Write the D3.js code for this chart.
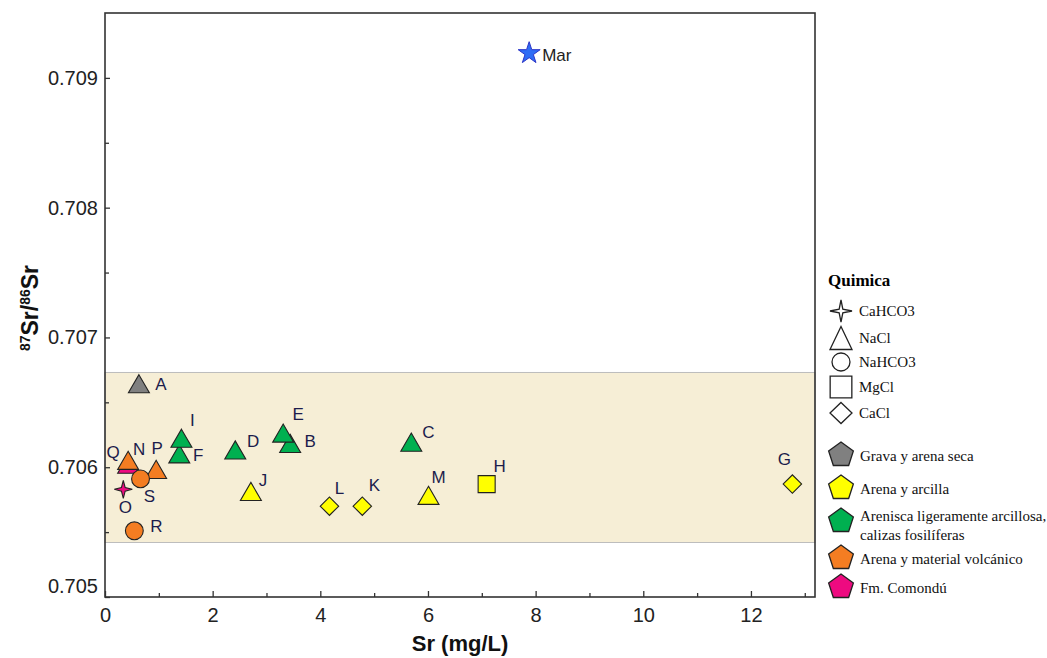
<!DOCTYPE html>
<html>
<head>
<meta charset="utf-8">
<script src="https://cdn.jsdelivr.net/npm/d3@7"></script>
<style>
  body { margin: 0; background: #fff; }
  .tick text { font-family: "Liberation Sans", Arial, sans-serif; font-size: 20px; fill: #222; }
  .lbl { font-family: "Liberation Sans", Arial, sans-serif; font-size: 17px; fill: #1c1c4c; }
  .leg { font-family: "Liberation Serif", "Times New Roman", serif; font-size: 15px; fill: #111; }
</style>
</head>
<body>
<svg id="canvas" width="1047" height="658"></svg>
<script>
// sample data
var names    = ["A", "B", "C", "D", "E", "F", "G", "H", "I", "J", "K", "L", "M", "N", "O", "P", "Q", "R", "S"];
var srValues = [0.63, 3.44, 5.69, 2.42, 3.31, 1.38, 12.77, 7.09, 1.42, 2.71, 4.78, 4.17, 6.01, 0.43, 0.34, 0.95, 0.43, 0.545, 0.66];
var ratios   = [0.70662, 0.70616, 0.70617, 0.70611, 0.70624, 0.70608, 0.70587, 0.70587, 0.70620, 0.70579, 0.70570, 0.70570, 0.70576, 0.70600, 0.70583, 0.70596, 0.70603, 0.70551, 0.70591];
var quimica  = ["NaCl", "NaCl", "NaCl", "NaCl", "NaCl", "NaCl", "CaCl", "MgCl", "NaCl", "NaCl", "CaCl", "CaCl", "NaCl", "NaCl", "CaHCO3", "NaCl", "NaCl", "NaHCO3", "NaHCO3"];
var litologia = ["Grava y arena seca", "Arenisca ligeramente arcillosa, calizas fosilíferas", "Arenisca ligeramente arcillosa, calizas fosilíferas",
  "Arenisca ligeramente arcillosa, calizas fosilíferas", "Arenisca ligeramente arcillosa, calizas fosilíferas", "Arenisca ligeramente arcillosa, calizas fosilíferas",
  "Arena y arcilla", "Arena y arcilla", "Arenisca ligeramente arcillosa, calizas fosilíferas", "Arena y arcilla", "Arena y arcilla", "Arena y arcilla", "Arena y arcilla",
  "Fm. Comondú", "Fm. Comondú", "Arena y material volcánico", "Arena y material volcánico", "Arena y material volcánico", "Arena y material volcánico"];

// sea water reference
var marName = "Mar", marSr = 7.88, marRatio = 0.70919;

// shaded range of the groundwater samples
var bandRange = [0.70542, 0.70673];

var xTicks = [0, 2, 4, 6, 8, 10, 12];
var yTicks = [0.705, 0.706, 0.707, 0.708, 0.709];

var quimicaTypes = ["CaHCO3", "NaCl", "NaHCO3", "MgCl", "CaCl"];
var litoTypes = ["Grava y arena seca", "Arena y arcilla", "Arenisca ligeramente arcillosa, calizas fosilíferas", "Arena y material volcánico", "Fm. Comondú"];
var litoColors = ["#808080", "#ffff00", "#00b050", "#f47d22", "#ee0a80"];

// label offsets (px) relative to each marker
var labelOffset = {
  A: [22, -3], B: [20, -5], C: [17, -13], D: [18, -12], E: [15, -22], F: [19, -2], G: [-8, -25],
  H: [13, -18], I: [11, -21], J: [12, -14], K: [12, -21], L: [10, -18], M: [10, -21], N: [11, -18],
  O: [2, 18], P: [1, -24], Q: [-15, -11], R: [22, -5], S: [9, 17]
};

var margin = {top: 13, right: 232, bottom: 61, left: 105};
var width = 1047 - margin.left - margin.right;
var height = 658 - margin.top - margin.bottom;

var svg = d3.select("#canvas")
  .append("g")
    .attr("transform", "translate(" + margin.left + "," + margin.top + ")");

var x = d3.scaleLinear().domain([0, 13.19]).range([0, width]);
var y = d3.scaleLinear().domain([0.705, 0.7095]).range([height, 0]);
var colorOf = d3.scaleOrdinal().domain(litoTypes).range(litoColors);

// shapes
function pentagon(r) {
  var pts = d3.range(5).map(function(i) {
    var a = -Math.PI / 2 + i * 2 * Math.PI / 5;
    return [r * Math.cos(a), r * Math.sin(a)];
  });
  return "M" + pts.join("L") + "Z";
}
function star4(r, ri) {
  var pts = [];
  for (var i = 0; i < 8; i++) {
    var a = -Math.PI / 2 + i * Math.PI / 4;
    var rr = i % 2 === 0 ? r : ri;
    pts.push([rr * Math.cos(a), rr * Math.sin(a)]);
  }
  return "M" + pts.join("L") + "Z";
}
function shapePath(q) {
  if (q === "NaCl") return d3.symbol().type(d3.symbolTriangle).size(190)();
  if (q === "NaHCO3") return d3.symbol().type(d3.symbolCircle).size(250)();
  if (q === "MgCl") return d3.symbol().type(d3.symbolSquare).size(290)();
  if (q === "CaCl") return d3.symbol().type(d3.symbolSquare).size(170)();
  return star4(9, 2.6);
}
function shapeRotate(q) { return q === "CaCl" ? 45 : 0; }

// band
svg.append("rect")
  .attr("x", 0).attr("width", width)
  .attr("y", y(bandRange[1]))
  .attr("height", y(bandRange[0]) - y(bandRange[1]))
  .style("fill", "#f6eed6")
  .style("stroke", "#bdbdbd")
  .style("stroke-width", 1);

// axes with inward ticks
var xAxis = d3.axisBottom(x).tickValues(xTicks).tickSize(-6).tickPadding(7).tickFormat(d3.format("d"));
var xMinor = d3.axisBottom(x).tickValues(d3.range(1, 14, 2)).tickSize(-4).tickFormat("");
var yAxis = d3.axisLeft(y).tickValues(yTicks).tickSize(-5).tickPadding(7).tickFormat(d3.format(".3f"));
var yMinor = d3.axisLeft(y).tickValues([0.7055, 0.7065, 0.7075, 0.7085]).tickSize(-4).tickFormat("");

var gx = svg.append("g").attr("transform", "translate(0," + height + ")").call(xAxis);
svg.append("g").attr("transform", "translate(0," + height + ")").call(xMinor);
var gy = svg.append("g").call(yAxis);
svg.append("g").call(yMinor);
svg.selectAll(".domain").remove();
svg.selectAll(".tick line").style("stroke", "#333").style("stroke-width", 1.3);
gx.selectAll(".tick text").attr("dy", "0.9em");
gy.selectAll(".tick text").filter(function(d) { return d === 0.705; }).attr("dy", "-0.25em");

// frame
svg.append("rect")
  .attr("width", width).attr("height", height)
  .style("fill", "none").style("stroke", "#333").style("stroke-width", 1.6);

// axis titles
svg.append("text")
  .attr("x", width / 2).attr("y", height + 54)
  .style("text-anchor", "middle")
  .style("font-family", "Liberation Sans, Arial, sans-serif")
  .style("font-weight", "bold").style("font-size", "22px").style("fill", "#111")
  .text("Sr (mg/L)");

var yt = svg.append("text")
  .attr("transform", "translate(" + (38 - margin.left) + "," + (308 - margin.top) + ") rotate(-90)")
  .style("text-anchor", "middle")
  .style("font-family", "Liberation Sans, Arial, sans-serif")
  .style("font-weight", "bold").style("font-size", "23px").style("fill", "#111");
yt.append("tspan").attr("baseline-shift", "super").style("font-size", "14px").text("87");
yt.append("tspan").text("Sr/");
yt.append("tspan").attr("baseline-shift", "super").style("font-size", "14px").text("86");
yt.append("tspan").text("Sr");

// points
var data = names.map(function(n, i) {
  return {name: n, sr: srValues[i], ratio: ratios[i], q: quimica[i], lito: litologia[i]};
});
// Comondú markers sit underneath
data.sort(function(a, b) { return (b.lito === "Fm. Comondú") - (a.lito === "Fm. Comondú"); });

svg.selectAll(".pt")
  .data(data)
  .enter().append("path")
    .attr("class", "pt")
    .attr("d", function(d) { return shapePath(d.q); })
    .attr("transform", function(d) {
      return "translate(" + x(d.sr) + "," + y(d.ratio) + ") rotate(" + shapeRotate(d.q) + ")";
    })
    .style("fill", function(d) { return colorOf(d.lito); })
    .style("stroke", "#222")
    .style("stroke-width", 1.1);

svg.selectAll(".lbl")
  .data(data)
  .enter().append("text")
    .attr("class", "lbl")
    .attr("x", function(d) { return x(d.sr) + labelOffset[d.name][0]; })
    .attr("y", function(d) { return y(d.ratio) + labelOffset[d.name][1]; })
    .attr("dy", "0.35em")
    .style("text-anchor", "middle")
    .text(function(d) { return d.name; });

// sea water star
svg.append("path")
  .attr("d", d3.symbol().type(d3.symbolStar).size(150)())
  .attr("transform", "translate(" + x(marSr) + "," + y(marRatio) + ")")
  .style("fill", "#2f6df5").style("stroke", "#2b35c8").style("stroke-width", 1);
svg.append("text").attr("class", "lbl")
  .attr("x", x(marSr) + 13).attr("y", y(marRatio) + 2).attr("dy", "0.35em")
  .style("fill", "#222")
  .text(marName);

// legend
var legend = d3.select("#canvas").append("g").attr("transform", "translate(828,0)");
legend.append("text")
  .attr("x", 0).attr("y", 286)
  .style("font-family", "Liberation Serif, Times New Roman, serif")
  .style("font-weight", "bold").style("font-size", "17px")
  .text("Quimica");

var qY = [311, 338, 362, 387, 413];
var legendShape = {
  CaHCO3: star4(11, 2.6),
  NaCl: "M0,-11.5L11,11.5L-11,11.5Z",
  NaHCO3: d3.symbol().type(d3.symbolCircle).size(254)(),
  MgCl: d3.symbol().type(d3.symbolSquare).size(470)(),
  CaCl: "M0,-10.5L11,0L0,10.5L-11,0Z"
};
quimicaTypes.forEach(function(q, i) {
  legend.append("path")
    .attr("d", legendShape[q])
    .attr("transform", "translate(13," + qY[i] + ")")
    .style("fill", "#fff").style("stroke", "#222").style("stroke-width", 1.3);
  legend.append("text").attr("class", "leg")
    .attr("x", 31).attr("y", qY[i]).attr("dy", "0.35em")
    .text(q);
});

var lY = [454, 487, 520, 557, 586];
litoTypes.forEach(function(l, i) {
  legend.append("path")
    .attr("d", pentagon(13))
    .attr("transform", "translate(13," + (lY[i] + 1) + ")")
    .style("fill", litoColors[i]).style("stroke", "#222").style("stroke-width", 1.3);
  var t = legend.append("text").attr("class", "leg").attr("x", 32);
  if (l.indexOf(",") > 0) {
    t.append("tspan").attr("x", 32).attr("y", 516).attr("dy", "0.35em").text("Arenisca ligeramente arcillosa,");
    t.append("tspan").attr("x", 32).attr("y", 535).attr("dy", "0.35em").text("calizas fosilíferas");
  } else {
    t.attr("y", lY[i] + 2).attr("dy", "0.35em").text(l);
  }
});
</script>
</body>
</html>
